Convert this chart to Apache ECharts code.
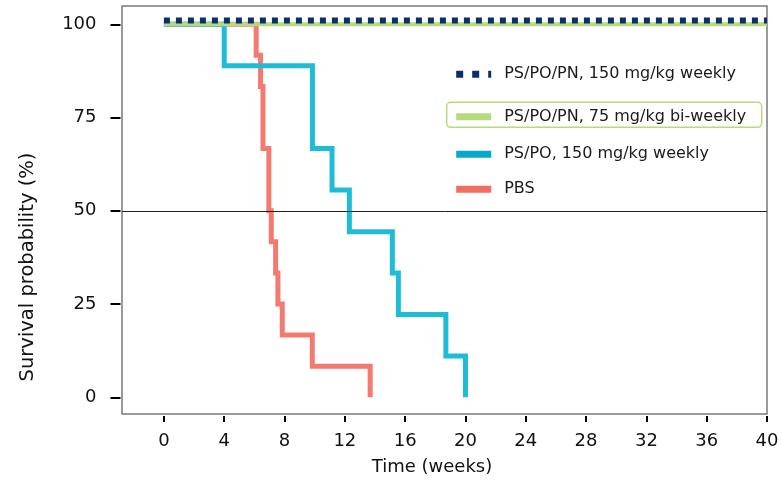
<!DOCTYPE html>
<html>
<head>
<meta charset="utf-8">
<script src="https://cdn.jsdelivr.net/npm/echarts@6/dist/echarts.min.js"></script>
<style>
html,body{margin:0;padding:0;background:#fff;}
#chart{width:782px;height:481px;}
</style>
</head>
<body>
<div id="chart"></div>
<script>
// ---- data ----
const xTicks = [0, 4, 8, 12, 16, 20, 24, 28, 32, 36, 40];
const yTicks = [0, 25, 50, 75, 100];
const seriesNames = [
  'PS/PO/PN, 150 mg/kg weekly',
  'PS/PO/PN, 75 mg/kg bi-weekly',
  'PS/PO, 150 mg/kg weekly',
  'PBS'
];
const highTime = [0, 40];
const highSurv = [101, 101];
const lowTime = [0, 40];
const lowSurv = [100, 100];
const psPoTime = [0, 4, 9.85, 11.15, 12.3, 15.15, 15.55, 18.7, 20];
const psPoSurv = [100, 88.9, 66.7, 55.6, 44.4, 33.3, 22.2, 11.1, 0];
const pbsTime = [0, 6.12, 6.41, 6.57, 6.96, 7.12, 7.41, 7.56, 7.85, 9.84, 13.68];
const pbsSurv = [100, 91.7, 83.3, 66.7, 50, 41.7, 33.3, 25, 16.7, 8.3, 0];
const refLine = 50;

const zip = (t, s) => t.map((v, i) => [v, s[i]]);
const FONT = 'DejaVu Sans';
const colors = {
  high: '#0b2f6b',
  low: '#b6db7c',
  psPo: '#1ebcd7',
  pbs: '#f47a70'
};

const chart = echarts.init(document.getElementById('chart'));

function legendAt(name, y, lineStyle) {
  return {
    data: [name],
    left: 452.7,
    top: y - 8,
    padding: 0,
    itemWidth: 35,
    itemHeight: 16,
    selectedMode: false,
    lineStyle: lineStyle,
    itemStyle: { opacity: 0, borderWidth: 0 },
    textStyle: {
      fontFamily: FONT, fontSize: 16, color: '#1a1a1a',
      lineHeight: 16, padding: [0, 0, 0, 8]
    }
  };
}

const option = {
  backgroundColor: '#fff',
  animation: false,
  grid: {
    left: 122, top: 6, width: 645, height: 408,
    show: true, borderColor: '#7a7a7a', borderWidth: 1.5,
    backgroundColor: 'transparent'
  },
  xAxis: {
    type: 'value',
    min: -2.78, max: 40,
    offset: 2,
    axisLine: { show: false, onZero: false },
    axisTick: { show: true, inside: false, length: 6, customValues: xTicks, lineStyle: { color: '#000', width: 2 } },
    axisLabel: { customValues: xTicks, margin: 16, fontFamily: FONT, fontSize: 18, color: '#111' },
    splitLine: { show: false }
  },
  yAxis: {
    type: 'value',
    min: -4.47, max: 104.9,
    offset: 1.5,
    axisLine: { show: false, onZero: false },
    axisTick: { show: true, inside: false, length: 10, customValues: yTicks, lineStyle: { color: '#000', width: 2 } },
    axisLabel: { customValues: yTicks, margin: 24, fontFamily: FONT, fontSize: 18, color: '#111' },
    splitLine: { show: false }
  },
  legend: [
    legendAt(seriesNames[0], 74.3, { width: 7, type: [7, 9], color: colors.high }),
    legendAt(seriesNames[1], 116.7, { width: 7, color: colors.low }),
    legendAt(seriesNames[2], 154.3, { width: 7, color: '#06a9ca' }),
    legendAt(seriesNames[3], 189.3, { width: 7, color: '#f26d62' })
  ],
  graphic: [
    {
      type: 'rect',
      shape: { x: 446.7, y: 102.3, width: 315, height: 25, r: 4 },
      style: { fill: 'none', stroke: '#b6db7c', lineWidth: 1.5 },
      z: 100
    },
    {
      type: 'text',
      x: 28, y: 267,
      rotation: Math.PI / 2,
      style: {
        text: 'Survival probability (%)',
        font: '19.5px "DejaVu Sans"', fill: '#111',
        align: 'center', verticalAlign: 'middle'
      }
    },
    {
      type: 'text',
      x: 432, y: 467,
      style: {
        text: 'Time (weeks)',
        font: '18px "DejaVu Sans"', fill: '#111',
        align: 'center', verticalAlign: 'middle'
      }
    }
  ],
  series: [
    {
      name: seriesNames[3], type: 'line', step: 'end',
      data: zip(pbsTime, pbsSurv),
      symbol: 'none', showSymbol: false, z: 2,
      lineStyle: { color: colors.pbs, width: 5, join: 'miter', cap: 'butt' },
      itemStyle: { color: colors.pbs }
    },
    {
      name: seriesNames[2], type: 'line', step: 'end',
      data: zip(psPoTime, psPoSurv),
      symbol: 'none', showSymbol: false, z: 3,
      lineStyle: { color: colors.psPo, width: 5, join: 'miter', cap: 'butt' },
      itemStyle: { color: colors.psPo }
    },
    {
      name: seriesNames[1], type: 'line',
      data: zip(lowTime, lowSurv),
      symbol: 'none', showSymbol: false, z: 4,
      lineStyle: { color: colors.low, width: 4, cap: 'butt' },
      itemStyle: { color: colors.low }
    },
    {
      name: seriesNames[0], type: 'line',
      data: zip(highTime, highSurv),
      symbol: 'none', showSymbol: false, z: 5,
      lineStyle: { color: colors.high, width: 6, type: [6, 6], cap: 'butt' },
      itemStyle: { color: colors.high },
      markLine: {
        silent: true,
        symbol: ['none', 'none'],
        label: { show: false },
        lineStyle: { color: '#222', width: 1, type: 'solid' },
        emphasis: { disabled: true },
        data: [{ yAxis: refLine }]
      }
    }
  ]
};
chart.setOption(option);
</script>
</body>
</html>
